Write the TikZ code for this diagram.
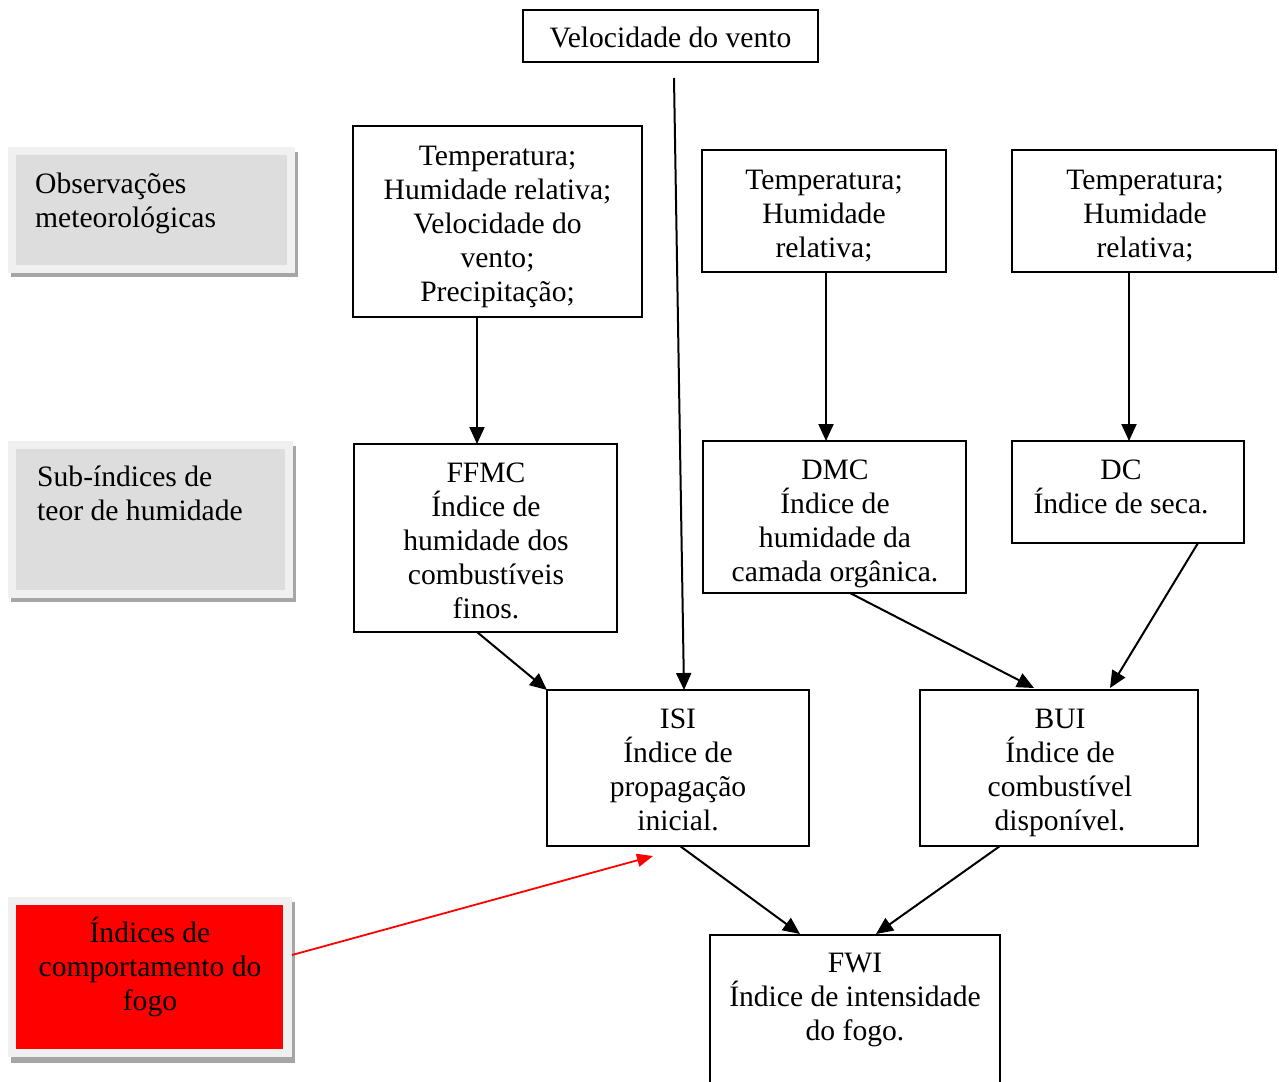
\documentclass[tikz,border=0pt]{standalone}
\usepackage{fontspec}
\setmainfont{Liberation Serif}
\usetikzlibrary{arrows.meta}
\definecolor{framegray}{HTML}{F0F0F0}
\definecolor{innergray}{HTML}{DDDDDD}
\definecolor{shadowgray}{HTML}{A6A6A6}
\definecolor{pureRed}{HTML}{FF0000}
\begin{document}
\begin{tikzpicture}[x=1pt,y=-1pt,
  box/.style={draw,line width=1.9pt,inner sep=0pt,outer sep=0pt},
  frame/.style={fill=framegray,inner sep=0pt,outer sep=0pt},
  txt/.style={inner sep=0pt,align=center,anchor=north,font=\fontsize{29.6}{34}\selectfont,
    execute at begin node=\strut,execute at end node=\strut},
  ltxt/.style={txt,align=left,anchor=north west},
  arr/.style={line width=2pt,-{Triangle[length=17pt,width=15pt]}},
  redarr/.style={line width=1.8pt,draw=pureRed,-{Triangle[length=16pt,width=13pt]}}
]
\useasboundingbox (0,0) rectangle (1279,1081);
\clip (0,0) rectangle (1279,1081);

% left category boxes
\fill[shadowgray] (11,152) rectangle (298,277);
\node[frame,minimum width=287pt,minimum height=126pt] (obs) at (151.5,210) {};
\fill[innergray] ([shift={(8pt,-8pt)}]obs.north west) rectangle ([shift={(-8pt,8pt)}]obs.south east);
\node[ltxt] (obst) at (35,173) {Observações\\meteorológicas};

\fill[shadowgray] (11,446) rectangle (296,602);
\node[frame,minimum width=285pt,minimum height=157pt] (sub) at (150.5,519.5) {};
\fill[innergray] ([shift={(8pt,-8pt)}]sub.north west) rectangle ([shift={(-8pt,8pt)}]sub.south east);
\node[ltxt] (subt) at (37,466) {Sub-índices de\\teor de humidade};

\fill[shadowgray] (11,902) rectangle (295,1063);
\node[frame,minimum width=284pt,minimum height=160pt] (red) at (150,977) {};
\fill[pureRed] ([shift={(8pt,-8pt)}]red.north west) rectangle ([shift={(-9pt,8pt)}]red.south east);
\node[txt] (redt) at (150,917) {Índices de\\comportamento do\\fogo};

% diagram boxes
\node[box,minimum width=295pt,minimum height=52pt] (velo) at (670.5,36) {};
\node[txt] (velot) at (670.5,24) {Velocidade do vento};

\node[box,minimum width=289pt,minimum height=191pt] (t1) at (497.5,221.5) {};
\node[txt] (t1t) at (497.5,146) {Temperatura;\\Humidade relativa;\\Velocidade do\\vento;\\Precipitação;};

\node[box,minimum width=244pt,minimum height=122pt] (t2) at (824,211) {};
\node[txt] (t2t) at (824,170) {Temperatura;\\Humidade\\relativa;};

\node[box,minimum width=264pt,minimum height=122pt] (t3) at (1144,211) {};
\node[txt] (t3t) at (1145,170) {Temperatura;\\Humidade\\relativa;};

\node[box,minimum width=263pt,minimum height=188pt] (ffmc) at (485.5,538) {};
\node[txt] (ffmct) at (486,463) {FFMC\\Índice de\\humidade dos\\combustíveis\\finos.};

\node[box,minimum width=263pt,minimum height=152pt] (dmc) at (834.5,517) {};
\node[txt] (dmct) at (835,460) {DMC\\Índice de\\humidade da\\camada orgânica.};

\node[box,minimum width=232pt,minimum height=102pt] (dc) at (1128,492) {};
\node[txt] (dct) at (1121,460) {DC\\Índice de seca.};

\node[box,minimum width=262pt,minimum height=156pt] (isi) at (678,768) {};
\node[txt] (isit) at (678,709) {ISI\\Índice de\\propagação\\inicial.};

\node[box,minimum width=278pt,minimum height=156pt] (bui) at (1059,768) {};
\node[txt] (buit) at (1060,709) {BUI\\Índice de\\combustível\\disponível.};

\node[box,minimum width=290pt,minimum height=175pt] (fwi) at (855,1022.5) {};
\node[txt] (fwit) at (855,953) {FWI\\Índice de intensidade\\do fogo.};

% connectors
\coordinate (ventoend) at (674,78);
\draw[arr] (ventoend) -- ([xshift=6pt]isi.north);
\draw[arr] ([xshift=-20.5pt]t1.south) -- ([xshift=-8.5pt]ffmc.north);
\draw[arr] ([xshift=2pt]t2.south) -- ([xshift=-8.5pt]dmc.north);
\draw[arr] ([xshift=-15pt]t3.south) -- ([xshift=1pt]dc.north);
\draw[arr] ([xshift=-8.5pt]ffmc.south) -- (isi.north west);
\draw[arr] ([xshift=15.5pt]dmc.south) -- ([xshift=-25pt,yshift=2pt]bui.north);
\draw[arr] ([xshift=70pt]dc.south) -- ([xshift=51pt,yshift=2pt]bui.north);
\draw[arr] ([xshift=2pt]isi.south) -- ([xshift=-55pt,yshift=1pt]fwi.north);
\draw[arr] ([xshift=-59pt]bui.south) -- ([xshift=21pt,yshift=1pt]fwi.north);
\draw[redarr] ([yshift=22pt]red.east) -- ([xshift=-25pt,yshift=-10pt]isi.south);
\end{tikzpicture}
\end{document}
